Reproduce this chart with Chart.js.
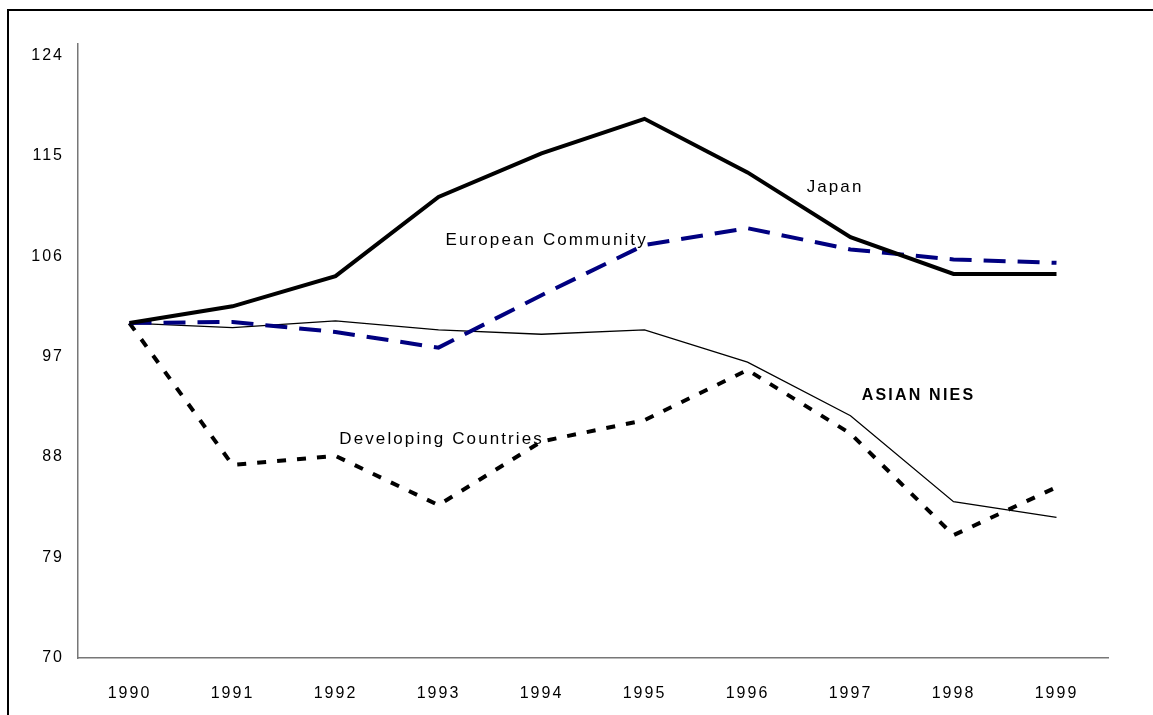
<!DOCTYPE html>
<html>
<head>
<meta charset="utf-8">
<script src="https://cdn.jsdelivr.net/npm/chart.js@4"></script>
<style>
    body { margin: 0; background: #fff; }
    #wrap { position: relative; width: 1153px; height: 715px; overflow: hidden; }
    #frame { position: absolute; left: 7px; top: 9px; width: 1200px; height: 800px; border-top: 2px solid #000; border-left: 2px solid #000; }
    canvas { position: absolute; left: 0; top: 0; }
</style>
</head>
<body>
<div id="wrap">
    <div id="frame"></div>
    <canvas id="chart" width="1153" height="715"></canvas>
</div>
<script>
const years = ['1990', '1991', '1992', '1993', '1994', '1995', '1996', '1997', '1998', '1999'];
const yTicks = [70, 79, 88, 97, 106, 115, 124];

const japan = [100, 101.5, 104.2, 111.3, 115.2, 118.3, 113.5, 107.7, 104.4, 104.4];
const europeanCommunity = [100, 100.1, 99.2, 97.8, 102.5, 107.0, 108.5, 106.6, 105.7, 105.4];
const asianNies = [100, 99.6, 100.2, 99.4, 99.0, 99.4, 96.5, 91.7, 84.0, 82.6];
const developing = [100, 87.3, 88.1, 83.7, 89.4, 91.3, 95.8, 90.1, 81.0, 85.3];

// series names written next to the lines (x as category index, y as value)
const seriesLabels = [
    { text: 'Japan', x: 6.85, y: 112.2, bold: false },
    { text: 'European Community', x: 4.05, y: 107.4, bold: false },
    { text: 'ASIAN NIES', x: 7.66, y: 93.5, bold: true },
    { text: 'Developing Countries', x: 3.03, y: 89.6, bold: false }
];

const FONT = '"Liberation Sans", Arial, sans-serif';

const spacingPlugin = {
    id: 'spacing',
    beforeDraw(chart) {
        chart.ctx.letterSpacing = '2px';
    }
};

const labelPlugin = {
    id: 'seriesLabels',
    afterDatasetsDraw(chart) {
        const ctx = chart.ctx;
        const xs = chart.scales.x;
        const ys = chart.scales.y;
        ctx.save();
        ctx.fillStyle = '#000';
        ctx.textAlign = 'center';
        ctx.textBaseline = 'middle';
        seriesLabels.forEach(l => {
            ctx.letterSpacing = l.bold ? '2.2px' : '2.1px';
            ctx.font = l.bold ? 'bold 16px ' + FONT : '17px ' + FONT;
            ctx.fillText(l.text, xs.getPixelForValue(l.x), ys.getPixelForValue(l.y));
        });
        ctx.restore();
    }
};

new Chart(document.getElementById('chart'), {
    type: 'line',
    data: {
        labels: years,
        datasets: [
            { label: 'Japan', data: japan, borderColor: '#000', borderWidth: 4 },
            { label: 'European Community', data: europeanCommunity, borderColor: '#000080', borderWidth: 4, borderDash: [22, 12] },
            { label: 'ASIAN NIES', data: asianNies, borderColor: '#000', borderWidth: 1.3 },
            { label: 'Developing Countries', data: developing, borderColor: '#000', borderWidth: 4, borderDash: [9, 11] }
        ]
    },
    options: {
        responsive: false,
        animation: false,
        layout: { padding: { left: 0, top: 44, right: 45, bottom: 0 } },
        elements: {
            point: { radius: 0, hoverRadius: 0 },
            line: { tension: 0, fill: false, borderJoinStyle: 'miter', borderCapStyle: 'butt' }
        },
        plugins: {
            legend: { display: false },
            tooltip: { enabled: false }
        },
        scales: {
            x: {
                offset: true,
                grid: { display: false, drawTicks: false },
                border: { color: '#777', width: 1.5 },
                ticks: { color: '#000', font: { family: FONT, size: 16 }, padding: 26, maxRotation: 0 },
                afterFit(scale) { scale.height = 57; }
            },
            y: {
                min: 70,
                max: 125,
                grid: { display: false, drawTicks: false },
                border: { color: '#777', width: 1.5 },
                ticks: { color: '#000', font: { family: FONT, size: 16 }, padding: 14 },
                afterBuildTicks(scale) { scale.ticks = yTicks.map(v => ({ value: v })); },
                afterFit(scale) { scale.width = 78; }
            }
        }
    },
    plugins: [spacingPlugin, labelPlugin]
});
</script>
</body>
</html>
